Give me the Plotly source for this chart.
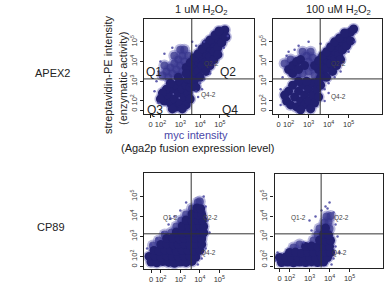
import plotly.graph_objects as go

# ---- data (log-decade display units; 1.5 ~ "0") ----
tick_vals = [1.5, 2, 3, 4, 5]
tick_text = ["0", "10<sup>2</sup>", "10<sup>3</sup>", "10<sup>4</sup>", "10<sup>5</sup>"]
col_titles = ["1 uM H<sub>2</sub>O<sub>2</sub>", "100 uM H<sub>2</sub>O<sub>2</sub>"]
row_titles = ["APEX2", "CP89"]
gate_x = [3.58, 3.58, 3.56, 3.58]
gate_y = [3.12, 3.12, 3.13, 3.13]

# panel 1: APEX2, 1 uM  (dense populations)
p1_x = [3.5,3.7,3.9,4.1,4.3,4.5,4.7,4.9,5.1,5.25,
        3.3,3.5,3.7,3.9,4.1,4.3,4.5,4.75,4.95,
        3.7,3.9,4.1,4.3,4.5,4.7,4.9,5.1,5.3,
        4.0,4.3,4.5,4.7,4.9,
        2.2,2.4,2.6,2.8,3.0,2.5,2.7,2.9,3.1,3.3,2.8,3.0,3.2,3.4,3.5,2.3,2.5,2.1,3.3,3.5,2.6,3.1,3.6,3.4,2.9,2.0,
        3.5,3.7,3.3,3.8]
p1_y = [3.5,3.75,4.0,4.2,4.45,4.7,4.9,5.15,5.4,5.6,
        3.7,3.95,4.2,4.4,4.65,4.9,5.1,5.35,5.55,
        3.3,3.55,3.8,4.0,4.25,4.5,4.7,4.95,5.25,
        3.2,3.5,3.8,4.1,4.35,
        2.0,2.3,2.6,2.8,3.0,1.9,2.1,2.4,2.6,2.8,1.7,1.9,2.2,2.4,2.7,2.6,2.9,2.4,1.8,2.1,1.6,1.6,2.9,3.1,3.2,2.1,
        3.1,3.0,3.4,2.7]
# panel 1 medium-density population (Q1)
p1_mx = [2.1,2.3,2.5,2.7,2.9,3.1,3.2,2.4,2.6,2.8,3.0,3.2,2.9,3.1,3.3,2.7,3.0,2.2,3.4]
p1_my = [3.3,3.5,3.7,3.9,4.1,4.3,4.6,3.2,3.4,3.6,3.8,4.0,3.3,3.5,3.3,4.3,4.6,3.8,4.3]
p1_sx = [1.8,1.7,2.0,1.9,2.6,3.6,3.8,4.0,4.2,4.5,4.1,3.9,2.2,1.9,5.2,5.4,4.2,3.8]
p1_sy = [3.0,2.5,4.0,3.5,4.7,5.0,2.5,2.9,3.1,3.4,2.6,2.2,4.4,1.9,4.7,5.3,5.0,4.8]

# panel 2: APEX2, 100 uM
p2_x = [3.5,3.7,3.9,4.1,4.3,4.5,4.7,4.9,5.1,5.25,
        3.3,3.5,3.7,3.9,4.1,4.3,4.55,4.8,
        3.7,3.9,4.1,4.3,4.5,4.7,4.9,5.1,3.9,4.2,4.4,4.6,3.6,
        2.0,2.2,2.4,2.6,2.2,2.5,2.8,
        1.9,2.1,2.3,2.5,2.7,2.4,2.6,2.8,3.0,3.2,2.8,3.0,3.2,3.4,3.3,3.5,2.0,2.2,2.5,1.8,3.6,3.1,2.6,3.5,2.9]
p2_y = [3.6,3.85,4.1,4.3,4.55,4.8,5.0,5.25,5.5,5.65,
        3.8,4.05,4.3,4.5,4.75,5.0,5.2,5.45,
        3.4,3.65,3.9,4.1,4.35,4.6,4.8,5.05,3.2,3.5,3.8,4.1,3.2,
        3.6,3.8,4.0,4.1,3.4,3.6,3.8,
        2.0,1.8,2.2,2.5,2.8,1.7,2.0,2.3,2.6,2.9,1.8,2.0,2.3,2.6,1.9,2.2,2.5,2.8,3.0,2.3,2.8,1.6,1.55,3.0,3.0]
p2_mx = [3.0,3.2,2.7,3.0,3.2,2.9,3.1,2.4,3.3,1.8,2.1,2.7]
p2_my = [4.0,4.2,3.4,3.5,3.7,4.3,4.5,3.3,3.3,3.9,4.1,4.5]
p2_sx = [1.6,1.7,1.6,2.0,2.5,3.0,3.8,4.0,4.3,4.6,4.0,3.8,5.3,5.0,3.6,1.9,2.3]
p2_sy = [2.6,3.2,1.8,4.5,4.8,5.0,2.6,2.9,3.2,3.5,2.4,2.0,5.0,4.5,4.9,4.3,4.6]

# panel 3: CP89, 1 uM
p3_x = [1.5,1.8,2.1,2.4,2.7,3.0,3.3,3.6,
        1.4,1.7,2.0,2.3,2.6,2.9,3.2,3.5,3.8,
        1.65,1.9,2.2,2.5,2.8,3.1,3.4,3.7,4.0,
        2.0,2.3,2.65,2.9,3.2,3.5,3.8,4.1,
        2.3,2.6,2.95,3.2,3.5,3.8,4.1,
        2.8,3.1,3.4,3.7,4.0,4.2,
        3.1,3.45,3.7,4.0,4.2,
        3.3,3.6,3.9,4.15,
        3.6,3.9,4.1,
        3.85,4.05]
p3_y = [1.72,1.68,1.74,1.7,1.66,1.72,1.7,1.75,
        2.0,2.02,1.97,2.03,2.0,1.98,2.02,2.0,1.97,
        2.3,2.28,2.33,2.3,2.27,2.32,2.3,2.28,2.3,
        2.6,2.63,2.58,2.6,2.62,2.58,2.6,2.6,
        2.9,2.92,2.88,2.9,2.93,2.9,2.88,
        3.22,3.18,3.2,3.23,3.2,3.18,
        3.52,3.48,3.5,3.53,3.5,
        3.82,3.78,3.8,3.82,
        4.12,4.08,4.1,
        4.42,4.38]
p3_mx = [2.55,2.8,3.05,3.3,3.6,3.9,4.0,1.6,1.9,2.2]
p3_my = [3.2,3.5,3.8,4.1,4.4,4.7,4.75,2.55,2.8,3.1]
p3_sx = [1.3,1.5,1.8,2.1,2.4,2.7,3.0,3.3,4.3,4.4,4.5,4.3,4.1,3.9,2.5,4.2]
p3_sy = [2.4,2.6,2.9,3.2,3.6,4.0,4.3,4.7,4.5,3.8,3.2,2.4,1.9,1.6,3.9,5.0]

# panel 4: CP89, 100 uM
p4_x = [1.6,1.9,2.2,2.5,2.8,3.1,3.4,3.7,
        1.5,1.8,2.1,2.4,2.7,3.0,3.3,3.6,3.9,
        2.0,2.3,2.6,2.9,3.2,3.5,3.8,4.05,
        2.8,3.1,3.4,3.7,4.0,
        3.5,3.8,4.05,
        3.7,3.95,
        3.8]
p4_y = [1.7,1.72,1.68,1.72,1.7,1.73,1.7,1.72,
        1.95,1.97,1.93,1.97,1.95,1.98,1.95,1.97,1.95,
        2.2,2.22,2.18,2.22,2.2,2.23,2.2,2.2,
        2.5,2.52,2.48,2.52,2.5,
        2.82,2.78,2.8,
        3.12,3.08,
        3.42]
p4_mx = [3.2,3.4,3.5,4.0,3.75,3.95,3.85,4.05,2.2,2.5]
p4_my = [2.8,3.1,3.4,3.38,3.7,3.72,4.0,4.02,2.45,2.6]
p4_sx = [3.9,4.0,3.8,4.2,4.3,4.4,4.3,4.2,3.1,3.0,2.7,2.4,1.4,1.3,3.3,4.5,3.6,4.1]
p4_sy = [4.4,4.7,4.5,4.2,3.6,3.0,2.5,1.9,3.3,3.8,2.7,2.5,2.2,1.8,4.0,2.2,4.3,1.6]

dense = [(p1_x, p1_y), (p2_x, p2_y), (p3_x, p3_y), (p4_x, p4_y)]
medium = [(p1_mx, p1_my), (p2_mx, p2_my), (p3_mx, p3_my), (p4_mx, p4_my)]
sparse = [(p1_sx, p1_sy), (p2_sx, p2_sy), (p3_sx, p3_sy), (p4_sx, p4_sy)]

# ---- layout geometry ----
W, H = 389, 292
boxes = [  # left, right, top, bottom in px
    (144, 254, 19, 114),
    (273, 382, 19, 114),
    (144, 254, 173, 269),
    (274.5, 383, 174, 267.5),
]
xranges = [[1.17, 6.72], [1.22, 6.67], [1.14, 6.78], [1.25, 6.67]]
yranges = [[1.34, 6.16], [1.34, 6.16], [1.37, 6.17], [1.45, 6.12]]

halo_col = "rgba(85,83,175,0.4)"
mid_col = "rgba(55,53,140,0.75)"
core_col = "rgb(34,32,112)"
sp_col = "rgba(70,68,160,0.85)"
font = "Liberation Sans, Arial, sans-serif"

fig = go.Figure()
layout = dict(width=W, height=H, margin=dict(l=0, r=0, t=0, b=0),
              paper_bgcolor="white", plot_bgcolor="white", showlegend=False,
              font=dict(family=font, color="#222"))

for i in range(4):
    n = "" if i == 0 else str(i + 1)
    l, r, t, b = boxes[i]
    ax = dict(domain=[l / W, r / W], range=xranges[i], anchor="y" + n,
              tickvals=tick_vals, ticktext=tick_text, ticks="outside", ticklen=3,
              tickcolor="#222", tickangle=0, tickfont=dict(size=7.5, color="#333"),
              showgrid=False, zeroline=False, showline=True, mirror=True,
              linecolor="#222", linewidth=1.3, fixedrange=True)
    ay = dict(domain=[1 - b / H, 1 - t / H], range=yranges[i], anchor="x" + n,
              tickvals=tick_vals, ticktext=tick_text, ticks="outside", ticklen=3,
              tickcolor="#222", tickangle=-90, tickfont=dict(size=7.5, color="#333"),
              showgrid=False, zeroline=False, showline=True, mirror=True,
              linecolor="#222", linewidth=1.3, fixedrange=True)
    layout["xaxis" + n] = ax
    layout["yaxis" + n] = ay
    dx, dy = dense[i]
    mx, my = medium[i]
    sx, sy = sparse[i]
    common = dict(mode="markers", xaxis="x" + n, yaxis="y" + n, hoverinfo="skip")
    # soft halo around every population
    fig.add_trace(go.Scatter(x=dx + mx, y=dy + my, **common,
                             marker=dict(size=12, color=halo_col, line=dict(width=0))))
    fig.add_trace(go.Scatter(x=mx, y=my, **common,
                             marker=dict(size=8, color=mid_col, line=dict(width=0))))
    fig.add_trace(go.Scatter(x=dx, y=dy, **common,
                             marker=dict(size=9, color=core_col, line=dict(width=0))))
    fig.add_trace(go.Scatter(x=sx, y=sy, **common,
                             marker=dict(size=2.5, color=sp_col, line=dict(width=0))))

fig.update_layout(**layout)

shapes = []
for i in range(4):
    n = "" if i == 0 else str(i + 1)
    shapes.append(dict(type="line", xref="x" + n, yref="y" + n + " domain",
                       x0=gate_x[i], x1=gate_x[i], y0=0, y1=1,
                       line=dict(color="#333", width=1)))
    shapes.append(dict(type="line", xref="x" + n + " domain", yref="y" + n,
                       x0=0, x1=1, y0=gate_y[i], y1=gate_y[i],
                       line=dict(color="#333", width=1)))
fig.update_layout(shapes=shapes)

ann = []
def txt(x, y, s, size, color="#222", xref="paper", yref="paper", angle=0):
    ann.append(dict(x=x, y=y, text=s, xref=xref, yref=yref, showarrow=False,
                    textangle=angle, font=dict(size=size, color=color, family=font),
                    xanchor="center", yanchor="middle"))

# column / row titles
txt(201 / W, 1 - 10 / H, col_titles[0], 11)
txt(338 / W, 1 - 10 / H, col_titles[1], 11)
txt(53 / W, 1 - 73 / H, row_titles[0], 11)
txt(51 / W, 1 - 227 / H, row_titles[1], 11)
# axis titles
txt(108 / W, 1 - 75 / H, "streptavidin-PE intensity", 11, angle=-90)
txt(123 / W, 1 - 78 / H, "(enzymatic activity)", 11, angle=-90)
txt(196 / W, 1 - 135 / H, "myc intensity", 11, color="#4a47a8")
txt(197 / W, 1 - 148 / H, "(Aga2p fusion expression level)", 11)

# quadrant labels (data coords)
big = [("Q1", 1.67, 3.47), ("Q2", 5.43, 3.47), ("Q3", 1.72, 1.56), ("Q4", 5.5, 1.56)]
for s, x, y in big:
    txt(x, y, s, 12, xref="x", yref="y")
small = [
    ("", [("Q2-2", 4.6, 3.88), ("Q4-2", 4.4, 2.3)]),
    ("2", [("Q2-2", 4.47, 3.88), ("Q4-2", 4.47, 2.2)]),
    ("3", [("Q1-2", 2.48, 3.92), ("Q2-2", 4.53, 3.92), ("Q4-2", 4.43, 2.17)]),
    ("4", [("Q1-2", 2.47, 3.92), ("Q2-2", 4.6, 3.92), ("Q4-2", 4.5, 2.17)]),
]
for n, items in small:
    for s, x, y in items:
        txt(x, y, s, 6.5, color="#444", xref="x" + n, yref="y" + n)

fig.update_layout(annotations=ann)
fig.write_html("out.html")
